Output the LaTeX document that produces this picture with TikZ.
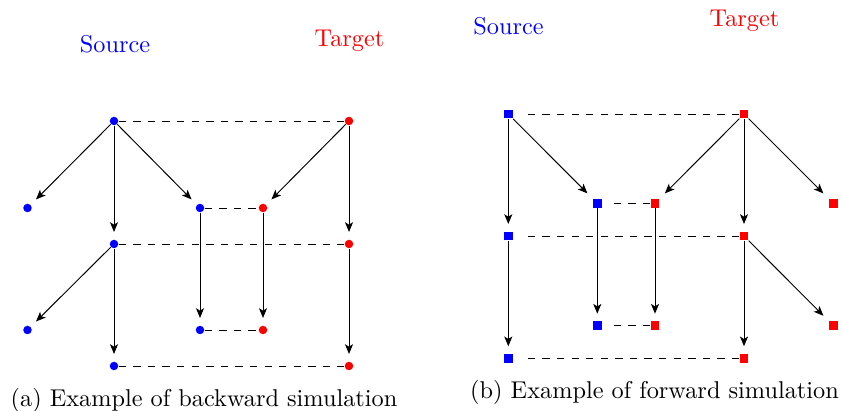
\documentclass[tikz,border=0pt]{standalone}
\usetikzlibrary{arrows.meta}
\begin{document}
\begin{tikzpicture}[x=0.4115pt,y=-0.4115pt,
  sdot/.style={circle,fill=blue,inner sep=0pt,minimum size=3.5pt},
  tdot/.style={circle,fill=red,inner sep=0pt,minimum size=3.5pt},
  ssq/.style={rectangle,fill=blue,inner sep=0pt,minimum size=3.5pt},
  tsq/.style={rectangle,fill=red,inner sep=0pt,minimum size=3.5pt},
  arr/.style={-{Stealth[length=4pt,width=3.3pt,inset=1pt]},shorten >=3pt},
  sim/.style={dashed},
  lbl/.style={inner sep=0pt}]
\useasboundingbox (0,0) rectangle (843,411);
% ---------- (a) backward simulation ----------
\node[lbl,text=blue] (la) at (115,44) {Source};
\node[lbl,text=red] (ta) at (349.5,41) {Target};
\node[sdot] (s0) at (114,121) {};
\node[tdot] (t0) at (349,121) {};
\node[sdot] (s1) at (27.5,208) {};
\node[sdot] (s2) at (200,208) {};
\node[tdot] (t1) at (263,208) {};
\node[sdot] (s3) at (114,244) {};
\node[tdot] (t2) at (349,244) {};
\node[sdot] (s4) at (27.5,330) {};
\node[sdot] (s5) at (200,330) {};
\node[tdot] (t3) at (263,330) {};
\node[sdot] (s6) at (114,366) {};
\node[tdot] (t4) at (349,366) {};
\draw[arr] (s0) -- (s1);
\draw[arr] (s0) -- (s3);
\draw[arr] (s0) -- (s2);
\draw[arr] (t0) -- (t1);
\draw[arr] (t0) -- (t2);
\draw[arr] (s2) -- (s5);
\draw[arr] (t1) -- (t3);
\draw[arr] (s3) -- (s4);
\draw[arr] (s3) -- (s6);
\draw[arr] (t2) -- (t4);
\draw[sim] (s0) -- (t0);
\draw[sim] (s2) -- (t1);
\draw[sim] (s3) -- (t2);
\draw[sim] (s5) -- (t3);
\draw[sim] (s6) -- (t4);
\node[lbl] (ca) at (204,400) {(a) Example of backward simulation};
% ---------- (b) forward simulation ----------
\node[lbl,text=blue] (lb) at (508.5,26) {Source};
\node[lbl,text=red] (tb) at (744.5,21) {Target};
\node[ssq] (a0) at (508.3,114) {};
\node[tsq] (b0) at (744,114) {};
\node[ssq] (a1) at (597.3,203.3) {};
\node[tsq] (b1) at (655,203.3) {};
\node[tsq] (b2) at (833.3,203.3) {};
\node[ssq] (a2) at (508.3,236) {};
\node[tsq] (b3) at (744,236) {};
\node[ssq] (a3) at (597.3,325.7) {};
\node[tsq] (b4) at (655,325.7) {};
\node[tsq] (b5) at (833.3,325.7) {};
\node[ssq] (a4) at (508.3,358.3) {};
\node[tsq] (b6) at (744,358.3) {};
\draw[arr] (a0) -- (a2);
\draw[arr] (a0) -- (a1);
\draw[arr] (b0) -- (b1);
\draw[arr] (b0) -- (b3);
\draw[arr] (b0) -- (b2);
\draw[arr] (a1) -- (a3);
\draw[arr] (b1) -- (b4);
\draw[arr] (a2) -- (a4);
\draw[arr] (b3) -- (b6);
\draw[arr] (b3) -- (b5);
\draw[sim,shorten >=3.5pt] (b0) -- (a0);
\draw[sim,shorten >=3.5pt] (b1) -- (a1);
\draw[sim,shorten >=3.5pt] (b3) -- (a2);
\draw[sim,shorten >=3.5pt] (b4) -- (a3);
\draw[sim,shorten >=3.5pt] (b6) -- (a4);
\node[lbl] (cb) at (654.5,392) {(b) Example of forward simulation};
\end{tikzpicture}
\end{document}
